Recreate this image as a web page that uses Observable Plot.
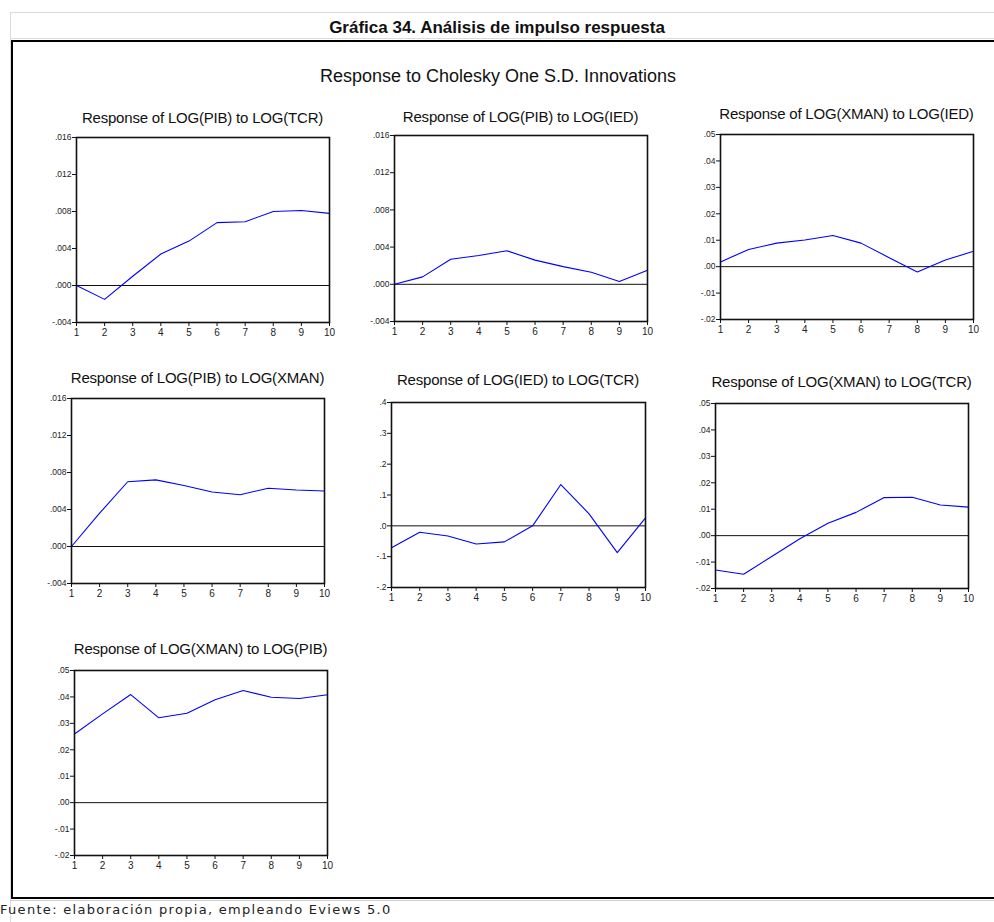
<!DOCTYPE html>
<html>
<head>
<meta charset="utf-8">
<script src="https://cdn.jsdelivr.net/npm/d3@7"></script>
<script src="https://cdn.jsdelivr.net/npm/@observablehq/plot@0.6"></script>
<style>
  html, body { margin: 0; padding: 0; background: #fff; overflow: hidden; }
  #page { position: relative; width: 994px; height: 922px; background: #fff; overflow: hidden; }
  .abs { position: absolute; }
  .ctext { position: absolute; transform: translate(-50%, -50%); white-space: nowrap; }
  .ptitle { font-family: 'Liberation Sans', Arial, sans-serif; font-size: 15px; color: #111; letter-spacing: -0.2px; }
</style>
</head>
<body>
<div id="page"></div>
<script>
// ---------- data ----------
const periods = [1, 2, 3, 4, 5, 6, 7, 8, 9, 10];

const pibToTcr   = [0.0000, -0.0015, 0.0010, 0.0034, 0.0048, 0.0068, 0.0069, 0.0080, 0.0081, 0.0078];
const pibToIed   = [0.0000, 0.0008, 0.0027, 0.0031, 0.0036, 0.0026, 0.0019, 0.0013, 0.0003, 0.0015];
const xmanToIed  = [0.0018, 0.0065, 0.0089, 0.0101, 0.0118, 0.0089, 0.0034, -0.0020, 0.0025, 0.0058];
const pibToXman  = [0.0000, 0.0036, 0.0070, 0.0072, 0.0066, 0.0059, 0.0056, 0.0063, 0.0061, 0.0060];
const iedToTcr   = [-0.071, -0.021, -0.033, -0.059, -0.052, 0.000, 0.134, 0.039, -0.087, 0.026];
const xmanToTcr  = [-0.0130, -0.0146, -0.0079, -0.0012, 0.0047, 0.0088, 0.0144, 0.0145, 0.0116, 0.0108];
const xmanToPib  = [0.0260, 0.0336, 0.0409, 0.0321, 0.0338, 0.0389, 0.0424, 0.0399, 0.0394, 0.0408];

const ticksPib  = [-0.004, 0, 0.004, 0.008, 0.012, 0.016];
const ticksXman = [-0.02, -0.01, 0, 0.01, 0.02, 0.03, 0.04, 0.05];
const ticksIed  = [-0.2, -0.1, 0, 0.1, 0.2, 0.3, 0.4];

const panelTitles = [
  "Response of LOG(PIB) to LOG(TCR)",
  "Response of LOG(PIB) to LOG(IED)",
  "Response of LOG(XMAN) to LOG(IED)",
  "Response of LOG(PIB) to LOG(XMAN)",
  "Response of LOG(IED) to LOG(TCR)",
  "Response of LOG(XMAN) to LOG(TCR)",
  "Response of LOG(XMAN) to LOG(PIB)"
];

const mainTitle = "Gráfica 34. Análisis de impulso respuesta";
const chartTitle = "Response to Cholesky One S.D. Innovations";
const footer = "Fuente: elaboración propia, empleando Eviews 5.0";

// ---------- layout ----------
const strip = s => s.replace("\u2212", "-").replace("0.", ".");
const fmtPib  = d => strip(d3.format(".3f")(d));
const fmtXman = d => strip(d3.format(".2f")(d));
const fmtIed  = d => strip(d3.format(".1f")(d));

const panels = [
  {values: pibToTcr,  ticks: ticksPib,  fmt: fmtPib,  frame: [76, 137, 329, 322], titleY: 117},
  {values: pibToIed,  ticks: ticksPib,  fmt: fmtPib,  frame: [394, 135, 647, 321], titleY: 116},
  {values: xmanToIed, ticks: ticksXman, fmt: fmtXman, frame: [720, 134, 973, 319], titleY: 113},
  {values: pibToXman, ticks: ticksPib,  fmt: fmtPib,  frame: [71, 398, 324, 583], titleY: 377},
  {values: iedToTcr,  ticks: ticksIed,  fmt: fmtIed,  frame: [391, 402, 645, 587], titleY: 379},
  {values: xmanToTcr, ticks: ticksXman, fmt: fmtXman, frame: [715, 403, 968, 588], titleY: 381},
  {values: xmanToPib, ticks: ticksXman, fmt: fmtXman, frame: [74, 670, 327, 855], titleY: 648}
];

const page = document.getElementById("page");

function addDiv(cls, css, text) {
  const d = document.createElement("div");
  d.className = cls;
  Object.assign(d.style, css);
  if (text != null) d.textContent = text;
  page.appendChild(d);
  return d;
}

// spreadsheet-like background lines
addDiv("abs", {left: "10px", top: "12px", width: "990px", height: "1px", background: "#dcdcdc"});
addDiv("abs", {left: "10px", top: "38px", width: "990px", height: "1px", background: "#dcdcdc"});
addDiv("abs", {left: "10px", top: "12px", width: "1px", height: "910px", background: "#dcdcdc"});
addDiv("abs", {left: "10px", top: "900px", width: "990px", height: "1px", background: "#d0d0d0"});

// black outer box
addDiv("abs", {left: "11px", top: "40px", width: "1000px", height: "859px", border: "2px solid #000", boxSizing: "border-box"});

// titles
addDiv("ctext", {left: "497px", top: "28px", fontFamily: "'Liberation Sans Narrow', 'Arial Narrow', 'Liberation Sans', sans-serif", fontWeight: "bold", fontSize: "17px", color: "#111"}, mainTitle);
addDiv("ctext", {left: "498px", top: "76px", fontFamily: "'Liberation Sans', Arial, sans-serif", fontSize: "18px", color: "#111"}, chartTitle);
addDiv("abs", {left: "0px", top: "902px", fontFamily: "'DejaVu Sans', sans-serif", fontSize: "13px", letterSpacing: "1.3px", color: "#222", whiteSpace: "nowrap"}, footer);

// panels
const mL = 40, mR = 8, mT = 6, mB = 22;
panels.forEach((p, i) => {
  const [x0, y0, x1, y1] = p.frame;
  const W = x1 - x0, H = y1 - y0;
  const data = periods.map((t, k) => ({period: t, value: p.values[k]}));
  const yDomain = [p.ticks[0], p.ticks[p.ticks.length - 1]];
  const svg = Plot.plot({
    width: W + mL + mR,
    height: H + mT + mB,
    marginLeft: mL, marginRight: mR, marginTop: mT, marginBottom: mB,
    x: {domain: [1, 10], label: null},
    y: {domain: yDomain, label: null},
    style: {fontFamily: "'Liberation Sans', Arial, sans-serif", color: "#222", background: "transparent", overflow: "visible"},
    marks: [
      Plot.axisX({ticks: periods, tickSize: 4, tickPadding: 2, fontSize: 10, tickFormat: d => String(d), stroke: "#111", label: null}),
      Plot.axisY({ticks: p.ticks, tickSize: 4, tickPadding: 1, fontSize: 8.5, tickFormat: p.fmt, stroke: "#111", label: null}),
      Plot.ruleY([0], {stroke: "#111", strokeWidth: 1}),
      Plot.lineY(data, {x: "period", y: "value", stroke: "#0000ff", strokeWidth: 1.1}),
      Plot.frame({stroke: "#111", strokeWidth: 1.6})
    ]
  });
  svg.style.position = "absolute";
  svg.style.left = (x0 - mL) + "px";
  svg.style.top = (y0 - mT) + "px";
  page.appendChild(svg);
  addDiv("ctext ptitle", {left: ((x0 + x1) / 2) + "px", top: p.titleY + "px"}, panelTitles[i]);
});
</script>
</body>
</html>
